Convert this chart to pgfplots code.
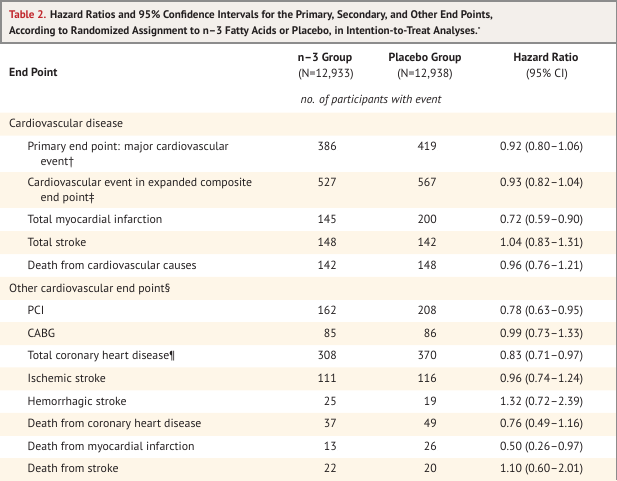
\documentclass[border=0pt]{standalone}
\usepackage{pgfplots}
\pgfplotsset{compat=1.18}
\usepackage{pgfplotstable}
\usepackage{fontspec}
\setmainfont{PT Sans}
\definecolor{nejmred}{HTML}{C1272D}
\definecolor{titlebg}{HTML}{F3EFEB}
\definecolor{cream}{HTML}{FEF6E8}
\definecolor{rulegray}{HTML}{8C8C8C}
\definecolor{txt}{HTML}{231F20}
\pgfkeys{/pgf/number format/assume math mode=true}

% y = vertical centre of the row (pixels from top)
\pgfplotstableread[col sep=comma]{
y,n3,pl,hr,lo,hi
147,386,419,0.92,0.80,1.06
183,527,567,0.93,0.82,1.04
219.5,145,200,0.72,0.59,0.90
242.5,148,142,1.04,0.83,1.31
265.5,142,148,0.96,0.76,1.21
310.5,162,208,0.78,0.63,0.95
333.5,85,86,0.99,0.73,1.33
356,308,370,0.83,0.71,0.97
378.5,111,116,0.96,0.74,1.24
401.5,25,19,1.32,0.72,2.39
424,37,49,0.76,0.49,1.16
446.5,13,26,0.50,0.26,0.97
469,22,20,1.10,0.60,2.01
}\results

% shaded bands: centre, full width
\pgfplotstableread{
y w
124 617
242.5 617
288.25 617
333.5 617
378.75 617
424.25 617
469.5 617
}\bandsingle
\pgfplotstableread{
y w
190 617
}\banddouble

\newcommand{\bodyfont}{\fontsize{11.8}{14}\selectfont}
\newcommand{\headfont}{\fontsize{11.8}{14}\selectfont}
\newcommand{\fmt}[1]{\pgfmathprintnumber[fixed,fixed zerofill,precision=2]{#1}}

\begin{document}
\begin{tikzpicture}
\begin{axis}[
  width=617pt, height=480pt, scale only axis,
  xmin=0, xmax=617, ymin=0, ymax=480, y dir=reverse,
  axis lines=none, enlargelimits=false,
  every node near coord/.append style={inner sep=0pt, font=\bodyfont, text=txt},
]
% shaded rows
\addplot[xbar, bar width=23, fill=cream, draw=none] table[x=w, y=y]{\bandsingle};
\addplot[xbar, bar width=36, fill=cream, draw=none] table[x=w, y=y]{\banddouble};

% title box
\draw[rulegray, line width=1.5pt, fill=titlebg] (axis cs:0.75,0.75) rectangle (axis cs:616.25,43);
\draw[rulegray, line width=1.5pt] (axis cs:616.25,43) -- (axis cs:616.25,480);

\node[anchor=base west, inner sep=0, font=\bfseries\fontsize{11.05}{13}\selectfont, text=txt] at (axis cs:9,18.5)
  {\textcolor{nejmred}{Table 2.} Hazard Ratios and 95\% Confidence Intervals for the Primary, Secondary, and Other End Points,};
\node[anchor=base west, inner sep=0, font=\bfseries\fontsize{11.05}{13}\selectfont, text=txt] at (axis cs:9,34)
  {According to Randomized Assignment to n–3 Fatty Acids or Placebo, in Intention-to-Treat Analyses.\raisebox{1.5pt}{\scriptsize *}};

% header
\begin{scope}[every node/.style={inner sep=0, text=txt, font=\bodyfont}]
\node[anchor=base west, font=\bfseries\headfont] at (axis cs:9,76) {End Point};
\node[anchor=base, font=\bfseries\headfont] at (axis cs:325,61) {n–3 Group};
\node[anchor=base, font=\headfont] at (axis cs:326,77) {(N=12,933)};
\node[anchor=base, font=\bfseries\headfont] at (axis cs:425,61) {Placebo Group};
\node[anchor=base, font=\headfont] at (axis cs:425,77) {(N=12,938)};
\node[anchor=base, font=\bfseries\headfont] at (axis cs:546,61) {Hazard Ratio};
\node[anchor=base, font=\headfont] at (axis cs:547,77) {(95\% CI)};
\node[anchor=base, font=\itshape\bodyfont] at (axis cs:371,103) {no. of participants with event};

% labels
\node[anchor=base west] at (axis cs:9,127.7) {Cardiovascular disease};
\node[anchor=base west] at (axis cs:27.5,150.7) {Primary end point: major cardiovascular};
\node[anchor=base west] at (axis cs:40.5,165.7) {event†};
\node[anchor=base west] at (axis cs:27.5,186.7) {Cardiovascular event in expanded composite};
\node[anchor=base west] at (axis cs:40.5,201.7) {end point‡};
\node[anchor=base west] at (axis cs:27.5,223.2) {Total myocardial infarction};
\node[anchor=base west] at (axis cs:27.5,246.2) {Total stroke};
\node[anchor=base west] at (axis cs:27.5,269.2) {Death from cardiovascular causes};
\node[anchor=base west] at (axis cs:9,292) {Other cardiovascular end point§};
\node[anchor=base west] at (axis cs:27.5,314.2) {PCI};
\node[anchor=base west] at (axis cs:27.5,337.2) {CABG};
\node[anchor=base west] at (axis cs:27.5,359.7) {Total coronary heart disease¶};
\node[anchor=base west] at (axis cs:27.5,382.2) {Ischemic stroke};
\node[anchor=base west] at (axis cs:27.5,405.2) {Hemorrhagic stroke};
\node[anchor=base west] at (axis cs:27.5,427.7) {Death from coronary heart disease};
\node[anchor=base west] at (axis cs:27.5,450.2) {Death from myocardial infarction};
\node[anchor=base west] at (axis cs:27.5,472.7) {Death from stroke};
\end{scope}

% n-3 group counts
\addplot[only marks, mark=*, mark size=0pt, mark options={draw=none, fill=none},
  point meta=explicit, nodes near coords={\pgfmathprintnumber{\pgfplotspointmeta}},
  every node near coord/.append style={anchor=base east}]
  table[x expr=337, y expr=\thisrow{y}+3.7, meta=n3]{\results};
% placebo counts
\addplot[only marks, mark=*, mark size=0pt, mark options={draw=none, fill=none},
  point meta=explicit, nodes near coords={\pgfmathprintnumber{\pgfplotspointmeta}},
  every node near coord/.append style={anchor=base east}]
  table[x expr=437, y expr=\thisrow{y}+3.7, meta=pl]{\results};
% hazard ratios
\addplot[only marks, mark=*, mark size=0pt, mark options={draw=none, fill=none},
  point meta=explicit,
  visualization depends on={\thisrow{lo}\as\lo},
  visualization depends on={\thisrow{hi}\as\hi},
  nodes near coords={\fmt{\pgfplotspointmeta} (\fmt{\lo}–\fmt{\hi})},
  every node near coord/.append style={anchor=base west}]
  table[x expr=500, y expr=\thisrow{y}+3.7, meta=hr]{\results};
\end{axis}
\end{tikzpicture}
\end{document}
